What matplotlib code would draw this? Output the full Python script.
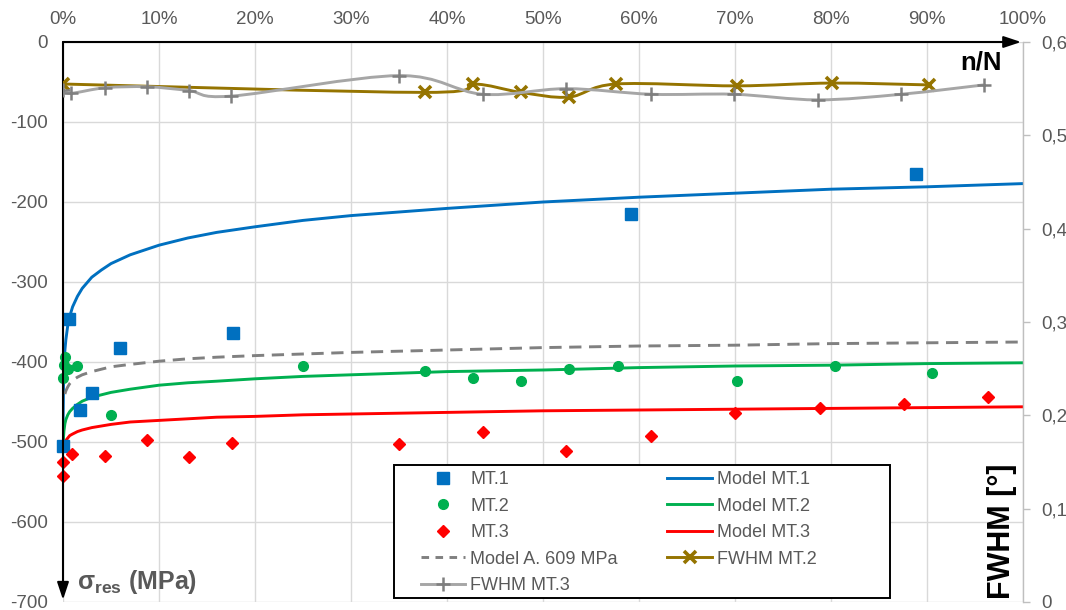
import numpy as np
import matplotlib
matplotlib.use("Agg")
import matplotlib.pyplot as plt
from matplotlib.path import Path
from matplotlib.patches import PathPatch, Rectangle
from matplotlib.lines import Line2D

plt.rcParams['font.family'] = ['Liberation Sans', 'DejaVu Sans']
plt.rcParams['axes.unicode_minus'] = False
plt.rcParams['mathtext.fontset'] = 'custom'
plt.rcParams['mathtext.rm'] = 'Liberation Sans'
plt.rcParams['mathtext.bf'] = 'Liberation Sans:bold'
plt.rcParams['mathtext.it'] = 'Liberation Sans:italic'

# ---- measured residual stresses (MPa) vs. life fraction n/N (%) ----
mt1_x = [0, 0.6, 1.8, 3.0, 5.9, 17.7, 59.2, 88.9]
mt1_y = [-505, -346, -460, -439, -382, -364, -215, -165]

mt2_x = [0, 0.1, 0.2, 0.5, 1.5, 5.0, 25.0, 37.7, 42.7, 47.7, 52.7, 57.8, 70.2, 80.4, 90.5]
mt2_y = [-420, -404, -394, -409, -405, -466, -405, -411, -420, -424, -409, -405, -424, -405, -414]

mt3_x = [0, 0, 0.9, 4.4, 8.8, 13.1, 17.6, 35.0, 43.7, 52.4, 61.2, 70.0, 78.9, 87.6, 96.4]
mt3_y = [-542, -525, -515, -517, -497, -519, -501, -502, -487, -511, -493, -464, -457, -452, -444]

# ---- model curves (MPa) ----
model_x = [0, 0.01, 0.02, 0.05, 0.1, 0.2, 0.3, 0.5, 0.7, 1, 1.5, 2, 3, 4, 5, 7, 10,
           13, 16, 20, 25, 30, 40, 50, 60, 70, 80, 90, 100]
model_mt1 = [-505, -486, -462, -432, -408, -385, -372, -354, -343, -331, -318, -308, -294,
             -285, -277, -266, -254, -245, -238, -231, -223, -217, -208, -200, -194, -189,
             -184, -181, -177]
model_mt2 = [-505, -505, -505, -494, -486, -477, -472, -466, -462, -458, -453, -449, -444,
             -441, -438, -434, -429, -426, -424, -421, -418, -416, -412, -410, -407, -405,
             -404, -402, -401]
model_mt3 = [-505, -505, -505, -505, -505, -501, -498, -495, -492, -490, -487, -485, -482,
             -480, -478, -475, -473, -471, -469, -468, -466, -465, -463, -461, -460, -459,
             -458, -457, -456]
modelA_x = [0.2, 0.3, 0.5, 0.7, 1, 1.5, 2, 3, 4, 5, 7, 10, 13, 16, 20, 25, 30, 40, 50,
            60, 70, 80, 90, 100]
modelA_y = [-440, -436, -431, -427, -423, -419, -416, -412, -409, -406, -403, -399, -396,
            -394, -392, -390, -388, -385, -382, -380, -379, -377, -376, -375]

# ---- peak width FWHM (deg) ----
fwhm2_x = [0, 37.7, 42.7, 47.7, 52.7, 57.6, 70.2, 80.1, 90.2]
fwhm2_y = [0.555, 0.546, 0.555, 0.546, 0.541, 0.555, 0.553, 0.556, 0.554]
fwhm3_x = [0, 0.8, 4.4, 8.8, 13.1, 17.5, 35.0, 43.7, 52.4, 61.3, 69.9, 78.6, 87.3, 95.9]
fwhm3_y = [0.549, 0.545, 0.551, 0.552, 0.548, 0.542, 0.564, 0.544, 0.550, 0.544, 0.544,
           0.538, 0.544, 0.554]

x_ticks = [0, 10, 20, 30, 40, 50, 60, 70, 80, 90, 100]
y_ticks = [0, -100, -200, -300, -400, -500, -600, -700]
fwhm_ticks = [0, 0.1, 0.2, 0.3, 0.4, 0.5, 0.6]

BLUE = '#0070C0'
GREEN = '#00B050'
RED = '#FF0000'
GOLD = '#957400'
GREY_DASH = '#808080'
GREY_LINE = '#A6A6A6'
GREY_MARK = '#7F7F7F'
TXT = '#595959'
GRID = '#D9D9D9'


def smooth_path(xs, ys):
    """Bezier path through the points (Catmull-Rom style smoothing)."""
    pts = np.column_stack([xs, ys]).astype(float)
    n = len(pts)
    verts = [pts[0]]
    codes = [Path.MOVETO]
    for i in range(n - 1):
        p0 = pts[i - 1] if i > 0 else pts[i]
        p1 = pts[i]
        p2 = pts[i + 1]
        p3 = pts[i + 2] if i + 2 < n else pts[i + 1]
        verts += [p1 + (p2 - p0) / 6.0, p2 - (p3 - p1) / 6.0, p2]
        codes += [Path.CURVE4] * 3
    return Path(verts, codes)


W, H = 1066, 610
fig = plt.figure(figsize=(W / 100, H / 100), dpi=100)
L, R, T, B = 63, 1023, 42, 602
ax = fig.add_axes([L / W, (H - B) / H, (R - L) / W, (B - T) / H])
ax.set_xlim(0, 100)
ax.set_ylim(-700, 0)

# grid
ax.set_axisbelow(True)
ax.grid(True, color=GRID, lw=1.0, zorder=0)
for s in ax.spines.values():
    s.set_visible(False)

ax.xaxis.tick_top()
ax.set_xticks(x_ticks)
ax.set_xticklabels([f'{v}%' for v in x_ticks])
ax.set_yticks(y_ticks)
ax.set_yticklabels([str(v) for v in y_ticks])
ax.tick_params(axis='x', length=0, pad=10, labelsize=13.5, labelcolor=TXT)
ax.tick_params(axis='y', length=0, pad=11, labelsize=13.5, labelcolor=TXT)

# model curves
lw = 2.1
ax.plot(model_x, model_mt1, color=BLUE, lw=lw, zorder=2, solid_capstyle='butt')
ax.plot(model_x, model_mt2, color=GREEN, lw=lw, zorder=2, solid_capstyle='butt')
ax.plot(model_x, model_mt3, color=RED, lw=lw, zorder=2, solid_capstyle='butt')
ax.plot(modelA_x, modelA_y, color=GREY_DASH, lw=lw, ls=(0, (4.2, 2.6)), zorder=2)

# measurements
ax.plot(mt1_x, mt1_y, ls='none', marker='s', ms=8.5, color=BLUE, mec=BLUE, zorder=4, clip_on=False)
ax.plot(mt2_x, mt2_y, ls='none', marker='o', ms=7, color=GREEN, mec=GREEN, zorder=4, clip_on=False)
ax.plot(mt3_x, mt3_y, ls='none', marker='D', ms=6.4, color=RED, mec=RED, zorder=4, clip_on=False)

# axis arrows
arrow = dict(arrowstyle='-|>,head_length=0.75,head_width=0.25', color='black', lw=1.5,
             shrinkA=0, shrinkB=0, mutation_scale=14)
ax.annotate('', xy=(0.998, 1.0), xytext=(0.0, 1.0), xycoords='axes fraction',
            textcoords='axes fraction', arrowprops=arrow, zorder=6)
ax.annotate('', xy=(0.0, 0.004), xytext=(0.0, 1.0), xycoords='axes fraction',
            textcoords='axes fraction', arrowprops=arrow, zorder=6)

# secondary axis: FWHM
ax2 = ax.twinx()
ax2.set_ylim(0, 0.6)
ax2.set_xlim(0, 100)
for k in ('left', 'top', 'bottom'):
    ax2.spines[k].set_visible(False)
ax2.spines['right'].set_color('#BFBFBF')
ax2.spines['right'].set_linewidth(1.0)
ax2.set_yticks(fwhm_ticks)
ax2.set_yticklabels([('0' if v == 0 else f'{v:.1f}'.replace('.', ',')) for v in fwhm_ticks])
ax2.tick_params(axis='y', direction='out', length=5, width=1, color='#BFBFBF',
                pad=8, labelsize=13.5, labelcolor=TXT)

ax2.add_patch(PathPatch(smooth_path(fwhm2_x, fwhm2_y), fill=False, edgecolor=GOLD,
                        lw=2.1, zorder=3, transform=ax2.transData))
ax2.plot(fwhm2_x, fwhm2_y, ls='none', marker='x', ms=9, mew=2.6, color=GOLD, zorder=3.1)
ax2.add_patch(PathPatch(smooth_path(fwhm3_x, fwhm3_y), fill=False, edgecolor=GREY_LINE,
                        lw=2.1, zorder=3.2, transform=ax2.transData))
ax2.plot(fwhm3_x, fwhm3_y, ls='none', marker='+', ms=10, mew=1.8, color=GREY_MARK, zorder=3.3)

# axis titles
fig.text(1002 / W, 1 - 63 / H, 'n/N', ha='right', va='center', fontsize=18.5,
         fontweight='bold', color='black')
fig.text(77 / W, 1 - 589 / H, r'$\mathbf{σ_{res}}$ (MPa)', ha='left', va='baseline',
         fontsize=18, fontweight='bold', color=TXT)
fig.text(1017 / W, 1 - 599 / H, 'FWHM [°]', ha='right', va='bottom', rotation=90,
         fontsize=22, fontweight='bold', color='black')

# legend
def px2ax(px, py):
    return (px - L) / (R - L), (B - py) / (B - T)

x0, y1 = px2ax(394, 465)
x1, y0 = px2ax(890, 598)
ax2.add_patch(Rectangle((x0, y0), x1 - x0, y1 - y0, transform=ax2.transAxes,
                        facecolor='white', edgecolor='black', lw=1.4, zorder=8))

handles = [
    Line2D([], [], ls='none', marker='s', ms=8.5, color=BLUE),
    Line2D([], [], ls='none', marker='o', ms=7, color=GREEN),
    Line2D([], [], ls='none', marker='D', ms=6.4, color=RED),
    Line2D([], [], color=GREY_DASH, lw=lw, ls=(0, (2.6, 2.2))),
    Line2D([], [], color=GREY_LINE, lw=lw, marker='+', ms=10, mew=1.8, mec=GREY_MARK),
    Line2D([], [], color=BLUE, lw=lw),
    Line2D([], [], color=GREEN, lw=lw),
    Line2D([], [], color=RED, lw=lw),
    Line2D([], [], color=GOLD, lw=lw, marker='x', ms=9, mew=2.6),
]
labels = ['MT.1', 'MT.2', 'MT.3', 'Model A. 609 MPa', 'FWHM MT.3',
          'Model MT.1', 'Model MT.2', 'Model MT.3', 'FWHM MT.2']
ax_anchor = px2ax(421, 471)
leg = ax2.legend(handles, labels, ncol=2, loc='upper left', bbox_to_anchor=ax_anchor,
                 bbox_transform=ax2.transAxes, frameon=False, fontsize=13,
                 labelcolor=TXT, borderpad=0, borderaxespad=0, handlelength=2.45,
                 handletextpad=0.28, labelspacing=0.53, columnspacing=2.75, numpoints=1)
leg.set_zorder(9)

fig.savefig('out.png', dpi=100)
